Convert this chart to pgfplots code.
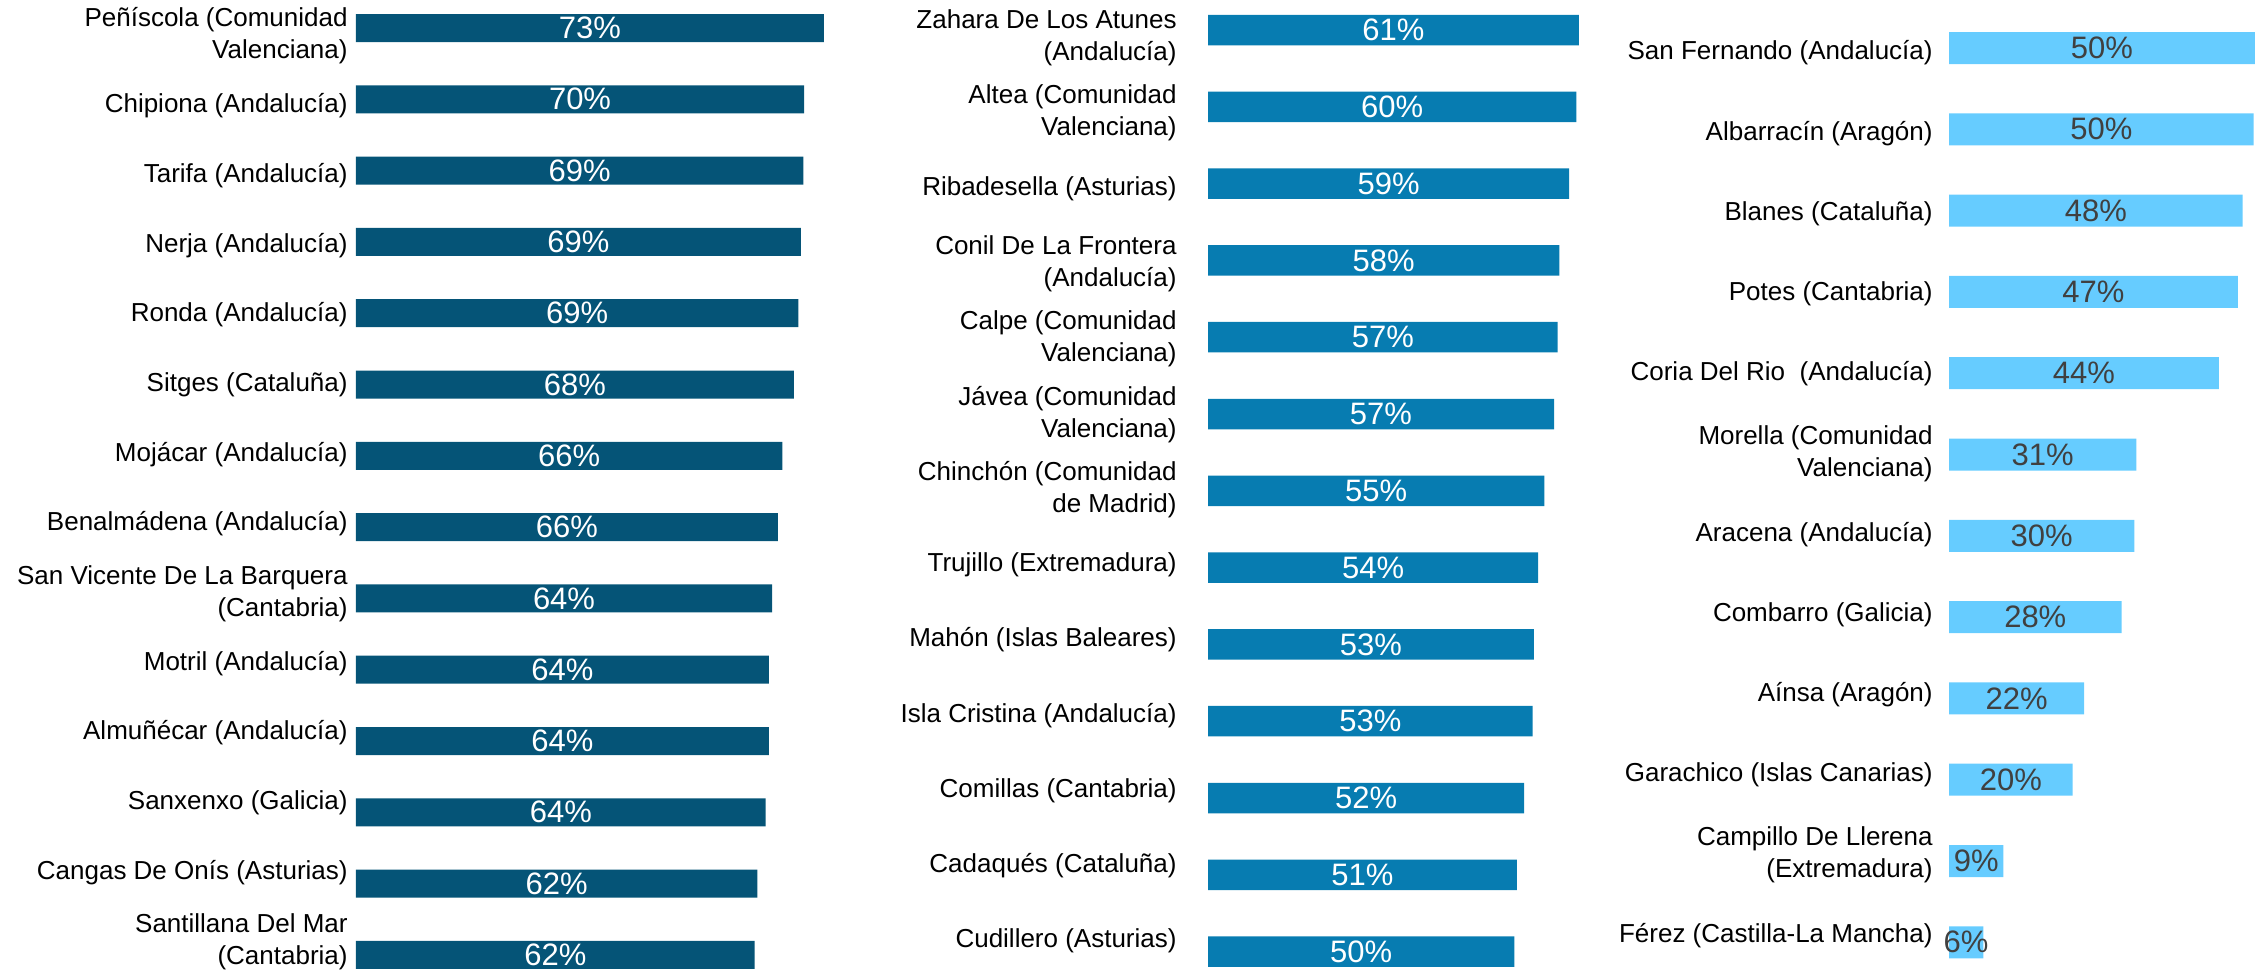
\documentclass[border=0pt]{standalone}
\usepackage{pgfplots}
\pgfplotsset{compat=1.18}
\usepackage{pgfplotstable}
\usepackage{fontspec}
\setmainfont{Liberation Sans}
\definecolor{cA}{RGB}{5,84,119}
\definecolor{cB}{RGB}{7,124,177}
\definecolor{cC}{RGB}{102,204,255}
\definecolor{tC}{RGB}{64,64,64}

\pgfplotstableread{
i v lab
0 73.0 73
1 69.9 70
2 69.8 69
3 69.4 69
4 69.0 69
5 68.3 68
6 66.5 66
7 65.8 66
8 64.9 64
9 64.4 64
10 64.4 64
11 63.9 64
12 62.6 62
13 62.2 62
}\tabA

\pgfplotstableread{
i v lab
0 61.0 61
1 60.6 60
2 59.4 59
3 57.8 58
4 57.5 57
5 56.9 57
6 55.3 55
7 54.3 54
8 53.6 53
9 53.4 53
10 52.0 52
11 50.8 51
12 50.4 50
}\tabB

\pgfplotstableread{
i v lab
0 50.0 50
1 49.8 50
2 48.0 48
3 47.2 47
4 44.1 44
5 30.6 31
6 30.3 30
7 28.2 28
8 22.1 22
9 20.2 20
10 8.9 9
11 5.6 6
}\tabC

\pgfplotsset{
  panel/.style={
    scale only axis, y dir=reverse, xmin=0,
    axis line style={draw=none}, xtick=\empty, major tick length=0pt,
    tick label style={font=\fontsize{13}{16}\selectfont, text=black},
    yticklabel style={align=right, inner sep=0pt},
    clip=false,
  },
  vlab/.style={draw=none, mark=none, point meta=explicit symbolic,
    nodes near coords={\pgfplotspointmeta\%},
    nodes near coords style={anchor=center, inner sep=0pt, font=\fontsize{15.5}{18}\selectfont, text=#1}},
}

\begin{document}
\begin{tikzpicture}
\path[use as bounding box] (0,0) rectangle (1130pt,-485pt);

\begin{axis}[panel, at={(178pt,3.825pt)}, anchor=north west,
  width=240.4pt, height=499.1pt, xmax=75, ymin=-0.5, ymax=13.5,
  ytick={0.112,1.090,2.067,3.045,4.022,5.000,5.978,6.955,7.933,8.910,9.888,10.866,11.843,12.821},
  yticklabels={{Peñíscola (Comunidad\\Valenciana)},{Chipiona (Andalucía)},{Tarifa (Andalucía)},{Nerja (Andalucía)},{Ronda (Andalucía)},{Sitges (Cataluña)},{Mojácar (Andalucía)},{Benalmádena (Andalucía)},{San Vicente De La Barquera\\(Cantabria)},{Motril (Andalucía)},{Almuñécar (Andalucía)},{Sanxenxo (Galicia)},{Cangas De Onís (Asturias)},{Santillana Del Mar\\(Cantabria)}},
  yticklabel style={xshift=-4pt}]
\addplot[xbar, bar shift=0pt, bar width=14pt, fill=cA, draw=none] table[x=v,y=i]{\tabA};
\addplot[vlab=white] table[x expr=\thisrow{v}/2, y=i, meta=lab]{\tabA};
\end{axis}

\begin{axis}[panel, at={(604pt,4.2pt)}, anchor=north west,
  width=188.5pt, height=499.2pt, xmax=62, ymin=-0.5, ymax=12.5,
  ytick={0.104,1.084,2.064,3.043,4.023,5.003,5.983,6.963,7.942,8.922,9.902,10.882,11.862},
  yticklabels={{Zahara De Los Atunes\\(Andalucía)},{Altea (Comunidad\\Valenciana)},{Ribadesella (Asturias)},{Conil De La Frontera\\(Andalucía)},{Calpe (Comunidad\\Valenciana)},{Jávea (Comunidad\\Valenciana)},{Chinchón (Comunidad\\de Madrid)},{Trujillo (Extremadura)},{Mahón (Islas Baleares)},{Isla Cristina (Andalucía)},{Comillas (Cantabria)},{Cadaqués (Cataluña)},{Cudillero (Asturias)}},
  yticklabel style={xshift=-15.5pt}]
\addplot[xbar, bar shift=0pt, bar width=15.25pt, fill=cB, draw=none] table[x=v,y=i]{\tabB};
\addplot[vlab=white] table[x expr=\thisrow{v}/2, y=i, meta=lab]{\tabB};
\end{axis}

\begin{axis}[panel, at={(974.5pt,-3.675pt)}, anchor=north west,
  width=154.5pt, height=487.8pt, xmax=50.5, ymin=-0.5, ymax=11.5,
  ytick={0.062,1.048,2.035,3.021,4.008,4.994,5.981,6.967,7.954,8.940,9.927,10.913},
  yticklabels={{San Fernando (Andalucía)},{Albarracín (Aragón)},{Blanes (Cataluña)},{Potes (Cantabria)},{Coria Del Rio~ (Andalucía)},{Morella (Comunidad\\Valenciana)},{Aracena (Andalucía)},{Combarro (Galicia)},{Aínsa (Aragón)},{Garachico (Islas Canarias)},{Campillo De Llerena\\(Extremadura)},{Férez (Castilla-La Mancha)}},
  yticklabel style={xshift=-8pt}]
\addplot[xbar, bar shift=0pt, bar width=16pt, fill=cC, draw=none] table[x=v,y=i]{\tabC};
\addplot[vlab=tC] table[x expr=\thisrow{v}/2, y=i, meta=lab]{\tabC};
\end{axis}
\end{tikzpicture}
\end{document}
